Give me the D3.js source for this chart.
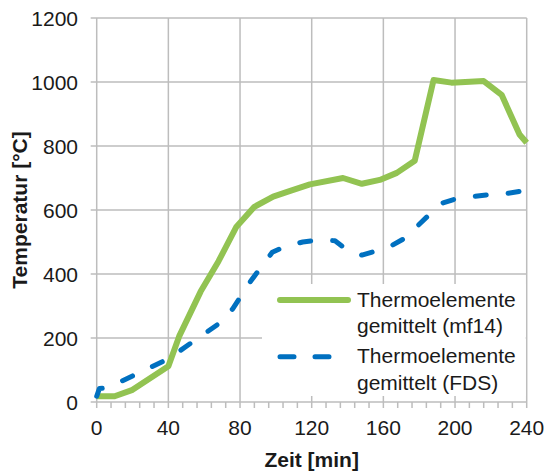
<!DOCTYPE html>
<html>
<head>
<meta charset="utf-8">
<script src="https://cdn.jsdelivr.net/npm/d3@7"></script>
<style>
  html, body { margin: 0; padding: 0; background: #fff; }
  svg { display: block; font-family: "Liberation Sans", Arial, sans-serif; }
</style>
</head>
<body>
<svg id="chart" width="544" height="475"></svg>
<script>
// Measured temperatures: averaged thermocouples (mf14)
const mf14Time  = [0, 10, 20, 40, 46, 58, 68, 78, 88, 98.5, 108, 119, 137.5, 148, 158, 167.5, 177.5, 188, 198, 216, 226, 236, 240];
const mf14Temp  = [18, 18, 38, 112, 205, 345, 440, 548, 610, 642, 660, 680, 700, 682, 694, 716, 754, 1006, 998, 1003, 960, 836, 810];

// Simulated temperatures: averaged thermocouples (FDS)
const fdsTime   = [0, 1.5, 6, 40, 70, 76, 86, 98, 106, 115, 124, 133, 140, 148, 156, 165, 172, 192, 200, 210, 218, 227, 238];
const fdsTemp   = [18, 42, 44, 135, 252, 292, 378, 468, 488, 500, 506, 504, 474, 459, 472, 490, 512, 620, 634, 642, 647, 650, 660];

const xTicks = [0, 40, 80, 120, 160, 200, 240];
const yTicks = [0, 200, 400, 600, 800, 1000, 1200];
const legendLabels = [["Thermoelemente", "gemittelt (mf14)"], ["Thermoelemente", "gemittelt (FDS)"]];

const green = "#92C352";
const blue = "#0070C0";
const grid = "#BDBDBD";
const ink = "#1a1a1a";

const svg = d3.select("#chart");
const x = d3.scaleLinear().domain([0, 240]).range([96.7, 526.7]);
const y = d3.scaleLinear().domain([0, 1200]).range([402, 18]);

// Horizontal gridlines (running past the left edge as tick marks)
svg.append("g").selectAll("line").data(yTicks).join("line")
  .attr("x1", x(0) - 6).attr("x2", x(240))
  .attr("y1", d => y(d)).attr("y2", d => y(d))
  .attr("stroke", grid).attr("stroke-width", 1.5);

// Vertical gridlines
svg.append("g").selectAll("line").data(xTicks).join("line")
  .attr("x1", d => x(d)).attr("x2", d => x(d))
  .attr("y1", y(1200)).attr("y2", y(0))
  .attr("stroke", grid).attr("stroke-width", 1.5);

// Minor ticks on the time axis every 8 minutes
svg.append("g").selectAll("line").data(d3.range(0, 241, 8)).join("line")
  .attr("x1", d => x(d)).attr("x2", d => x(d))
  .attr("y1", y(0)).attr("y2", y(0) + 6)
  .attr("stroke", grid).attr("stroke-width", 1.5);

// Tick labels
svg.append("g").selectAll("text").data(yTicks).join("text")
  .attr("x", 78).attr("y", d => y(d) + 7.5)
  .attr("text-anchor", "end").attr("font-size", 21).attr("fill", ink)
  .text(d => d);

svg.append("g").selectAll("text").data(xTicks).join("text")
  .attr("x", d => x(d)).attr("y", 435)
  .attr("text-anchor", "middle").attr("font-size", 21).attr("fill", ink)
  .text(d => d);

// Axis titles
svg.append("text")
  .attr("x", 311.7).attr("y", 466.5)
  .attr("text-anchor", "middle").attr("font-size", 21).attr("font-weight", "bold").attr("fill", ink)
  .text("Zeit [min]");

svg.append("text")
  .attr("transform", "translate(27," + (y(600)) + ") rotate(-90)")
  .attr("text-anchor", "middle").attr("font-size", 21).attr("font-weight", "bold").attr("fill", ink)
  .text("Temperatur [°C]");

// Series lines
const line = d3.line().x(d => x(d[0])).y(d => y(d[1]));

svg.append("path")
  .datum(d3.zip(mf14Time, mf14Temp))
  .attr("d", line)
  .attr("fill", "none").attr("stroke", green).attr("stroke-width", 6)
  .attr("stroke-linejoin", "round");

svg.append("path")
  .datum(d3.zip(fdsTime, fdsTemp))
  .attr("d", line)
  .attr("fill", "none").attr("stroke", blue).attr("stroke-width", 5)
  .attr("stroke-linecap", "round").attr("stroke-linejoin", "round")
  .attr("stroke-dasharray", "11,22");

// Legend on a white panel over the grid
const lg = svg.append("g");
lg.append("rect")
  .attr("x", 262).attr("y", 284).attr("width", x(240) - 1 - 262).attr("height", 112)
  .attr("fill", "#fff");

const rows = [{ color: green, width: 6, dash: null, cy: 300, base: 306.7 },
              { color: blue, width: 5, dash: "14,21", cy: 356.7, base: 363.3 }];
rows.forEach((r, i) => {
  lg.append("line")
    .attr("x1", 280).attr("x2", 348).attr("y1", r.cy).attr("y2", r.cy)
    .attr("stroke", r.color).attr("stroke-width", r.width)
    .attr("stroke-linecap", "round")
    .attr("stroke-dasharray", r.dash);
  const t = lg.append("text").attr("font-size", 21).attr("fill", ink);
  legendLabels[i].forEach((s, j) => {
    t.append("tspan").attr("x", 357).attr("y", r.base + j * 26.7).text(s);
  });
});
</script>
</body>
</html>
